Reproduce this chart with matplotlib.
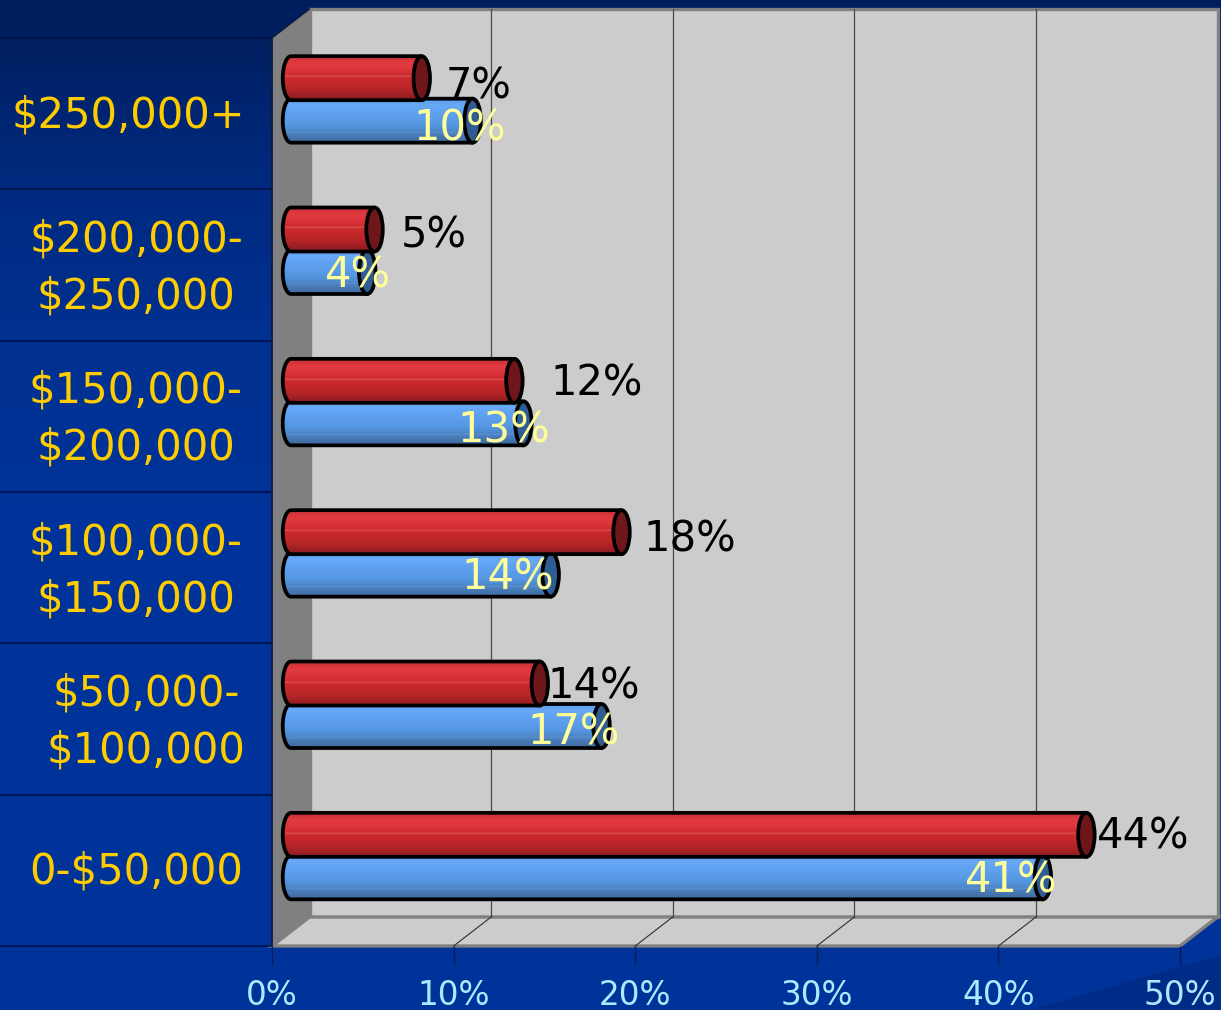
import numpy as np
import matplotlib
matplotlib.use("Agg")
import matplotlib.pyplot as plt
from matplotlib.colors import LinearSegmentedColormap
from matplotlib.patches import Ellipse, PathPatch, Polygon
from matplotlib.path import Path
from matplotlib.transforms import Affine2D

# ---- data (bottom category first) ----
categories = ["0-$50,000", "$50,000-\n$100,000", "$100,000-\n$150,000",
              "$150,000-\n$200,000", "$200,000-\n$250,000", "$250,000+"]
red_values = [43.8, 13.7, 18.2, 12.3, 4.6, 7.2]
blue_values = [41.4, 17.1, 14.3, 12.8, 4.2, 10.0]
red_labels = ["44%", "14%", "18%", "12%", "5%", "7%"]
blue_labels = ["41%", "17%", "14%", "13%", "4%", "10%"]
x_ticks = [0, 10, 20, 30, 40, 50]
x_tick_labels = ["0%", "10%", "20%", "30%", "40%", "50%"]

# ---- layout / style ----
W, H = 1221, 1010
L, R, T, B = 272, 1180, 38, 946          # front plane in pixels
px_x = (R - L) / 50
px_y = (B - T) / 6
depth_x, depth_y = 37.5 / px_x, 29 / px_y  # full depth of the 3D box
bar_dx, bar_dy = 19 / px_x, 15 / px_y      # bars stand mid-depth
bar_h = 44 / px_y
red_shift, blue_shift = 20.5 / px_y, -22 / px_y
cap_w, cap_h = 16.5 / px_x, bar_h
edge_lw = 2.7

# label offsets from bar end, pixels
red_off = [(57, -2), (54, -3), (68, -7), (82, -3), (59, -6), (57, -8)]
blue_off = [(-32, -3), (-28, -6), (-43, -3), (-20, -7), (-9, -3), (-13, -8)]
cat_dx = [0, 10, 0, 0, 0, -8]            # category label nudges, pixels
cat_dy = [3, 9, 9, 9, 9, 3]

red_cm = LinearSegmentedColormap.from_list("r", [(0, "#c83036"), (.15, "#e03a40"), (.27, "#de383e"),
                                                 (.43, "#cf2c30"), (.46, "#d85054"), (.49, "#cc2a2e"),
                                                 (.75, "#b82528"), (1, "#8a1c20")])
blue_cm = LinearSegmentedColormap.from_list("b", [(0, "#5a98e4"), (.13, "#68aaf8"), (.3, "#60a2f2"),
                                                  (.6, "#5596e0"), (.73, "#4c86c8"), (.76, "#5c90cc"),
                                                  (.79, "#4a80be"), (1, "#40689c")])
bg_cm = LinearSegmentedColormap.from_list("bg", [(0, "#001e5c"), (.04, "#002060"), (.1, "#00246f"),
                                                 (.19, "#002a80"), (.32, "#003090"), (.5, "#003399"),
                                                 (1, "#003399")])

fig = plt.figure(figsize=(W / 100, H / 100), dpi=100)

# background
bg = fig.add_axes([0, 0, 1, 1], zorder=0)
bg.imshow(np.linspace(0, 1, 256)[:, None], cmap=bg_cm, aspect="auto", extent=(0, W, H, 0), vmin=0, vmax=1)
bg.add_patch(Polygon([(1030, H), (W, 955), (W, H)], fc="#002b87", ec="none"))
bg.set_xlim(0, W); bg.set_ylim(H, 0); bg.axis("off")

ax = fig.add_axes([L / W, 1 - B / H, (R - L) / W, (B - T) / H], zorder=1)
ax.patch.set_visible(False)
for s in ax.spines.values():
    s.set_visible(False)
y0, y1 = -0.5, 5.5

# 3D box
wall = Polygon([(0, y0), (depth_x, y0 + depth_y), (depth_x, y1 + depth_y), (0, y1)],
               fc="#808080", ec="none", clip_on=False, zorder=1)
back = Polygon([(depth_x, y0 + depth_y), (50 + depth_x, y0 + depth_y), (50 + depth_x, y1 + depth_y), (depth_x, y1 + depth_y)],
               fc="#cccccc", ec="#808080", lw=2.4, clip_on=False, zorder=1.1)
floor = Polygon([(0, y0), (50, y0), (50 + depth_x, y0 + depth_y), (depth_x, y0 + depth_y)],
                fc="#cccccc", ec="#808080", lw=2.4, clip_on=False, zorder=1.2)
ax.add_patch(back); ax.add_patch(wall); ax.add_patch(floor)
ax.plot([0, 0], [y0, y1], color="#101c40", lw=1.3, clip_on=False, zorder=1.6)
ax.plot([0, depth_x], [y1, y1 + depth_y], color="#101c40", lw=1.0, clip_on=False, zorder=1.6)
for t in x_ticks[1:-1]:
    ax.plot([t + depth_x] * 2, [y0 + depth_y, y1 + depth_y], color="#4a4a4a", lw=0.9, clip_on=False, zorder=1.5)
    ax.plot([t, t + depth_x], [y0, y0 + depth_y], color="#303030", lw=0.8, clip_on=False, zorder=1.5)


def cylinder(y, v, cmap, cap_color, base, z):
    left, right = bar_dx, bar_dx + v
    top, bot = y + bar_h / 2, y - bar_h / 2
    bars = ax.barh(y, v, height=bar_h, left=left, color=base, edgecolor="none", zorder=z)
    th = np.linspace(np.pi / 2, 3 * np.pi / 2, 30)
    lx = left + cap_w / 2 * np.cos(th)
    ly = y + cap_h / 2 * np.sin(th)
    verts = [(right, top)] + list(zip(lx, ly)) + [(right, bot), (right, top)]
    path = Path(verts)
    im = ax.imshow(np.linspace(0, 1, 256)[:, None], cmap=cmap, aspect="auto", vmin=0, vmax=1,
                   extent=(left - cap_w, right + cap_w, bot, top), zorder=z + .01,
                   interpolation="bilinear")
    outline = PathPatch(path, fc="none", ec="black", lw=edge_lw, zorder=z + .02, joinstyle="round")
    ax.add_patch(outline)
    im.set_clip_path(PathPatch(path, transform=ax.transData))
    ax.add_patch(Ellipse((right, y), cap_w, cap_h, fc=cap_color, ec="black", lw=edge_lw, zorder=z + .03))
    return bars


for i in range(len(categories)):
    yc = i + bar_dy
    zb = 2 + i * 0.2
    cylinder(yc + blue_shift, blue_values[i], blue_cm, "#2f5c92", "#5596e0", zb)
    cylinder(yc + red_shift, red_values[i], red_cm, "#6e161a", "#cc2a2e", zb + .1)

for i in range(len(categories)):
    yc = i + bar_dy
    ax.annotate(red_labels[i], (bar_dx + red_values[i], yc + red_shift), xytext=red_off[i],
                textcoords="offset pixels", ha="center", va="center", color="black", fontsize=30, zorder=10)
    ax.annotate(blue_labels[i], (bar_dx + blue_values[i], yc + blue_shift), xytext=blue_off[i],
                textcoords="offset pixels", ha="center", va="center", color="#ffff99", fontsize=30, zorder=10)

# axes: ticks and labels
ax.set_xlim(0, 50)
ax.set_ylim(y0, y1)
ax.set_xticks(x_ticks, x_tick_labels, color="#aee8ff", fontsize=23.6)
ax.tick_params(axis="x", length=13.7, width=1, color="#0a1c50", pad=10)
ax.set_yticks(range(len(categories)), categories, color="#ffcc00", fontsize=30, ha="center",
              multialignment="center", linespacing=1.45)
ax.tick_params(axis="y", which="major", length=0, pad=98)
ax.set_yticks(np.arange(-0.5, 6), minor=True)
ax.tick_params(axis="y", which="minor", length=196, width=1.1, color="#001048")
for lab, dx, dy in zip(ax.get_yticklabels(), cat_dx, cat_dy):
    lab.set_transform(lab.get_transform() + Affine2D().translate(dx, dy))

fig.savefig("out.png", dpi=100)
